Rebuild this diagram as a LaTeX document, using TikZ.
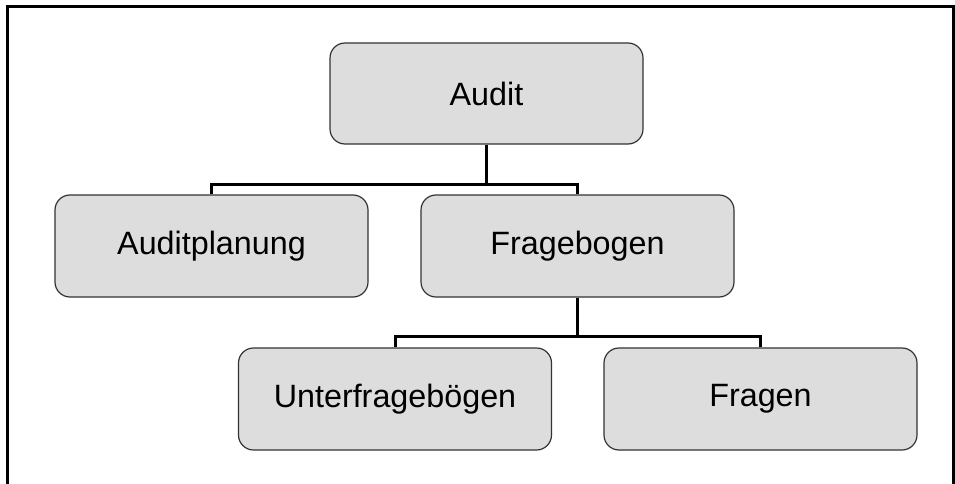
\documentclass[tikz,border=0pt]{standalone}
\usepackage{fontspec}
\setmainfont{Liberation Sans}
\definecolor{boxgray}{HTML}{DDDDDD}
\definecolor{boxline}{HTML}{333333}
\begin{document}
\begin{tikzpicture}[x=1pt,y=-1pt,
  box/.style={draw=boxline, line width=1.2pt, fill=boxgray, rounded corners=15pt,
    minimum width=313pt, minimum height=102pt, inner sep=0pt,
    font=\fontsize{32.3}{38}\selectfont},
  link/.style={line width=3pt, draw=black},
  frame/.style={line width=3pt, draw=black}]
  \useasboundingbox (0,0) rectangle (955,484);
  % outer frame
  \draw[frame] (7,484) -- (7,7) -- (953,7) -- (953,484);
  % tree nodes
  \node[box, minimum height=101pt] (audit) at (486.5,93.5) {Audit};
  \node[box] (plan) at (211.5,246) {Auditplanung};
  \node[box] (frage) at (577.5,246) {Fragebogen};
  \node[box] (unter) at (395,399) {Unterfragebögen};
  \node[box] (fragen) at (760.5,399) {Fragen};
  % junction points of the connectors
  \coordinate (j1) at (486.5,184);
  \coordinate (j2) at (577.5,336);
  \draw[link] (audit.south) -- (j1);
  \draw[link] (plan.north) |- (j1);
  \draw[link] (frage.north) |- (j1);
  \draw[link] (frage.south) -- (j2);
  \draw[link] (unter.north) |- (j2);
  \draw[link] (fragen.north) |- (j2);
\end{tikzpicture}
\end{document}
